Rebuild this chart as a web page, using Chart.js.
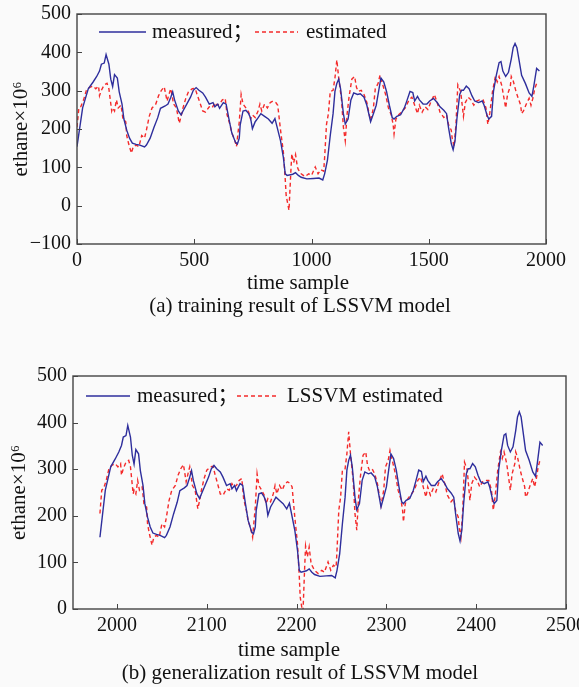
<!DOCTYPE html>
<html>
<head>
<meta charset="utf-8">
<script src="https://cdn.jsdelivr.net/npm/chart.js@4.4.1/dist/chart.umd.min.js"></script>
<style>
  html, body { margin: 0; padding: 0; background: #fafafa; }
  body { width: 579px; height: 687px; position: relative; overflow: hidden; }
  canvas { position: absolute; left: 0; }
  #train { top: 0; }
  #test { top: 360px; }
</style>
</head>
<body>
<canvas id="train" width="579" height="320"></canvas>
<canvas id="test" width="579" height="327"></canvas>
<script>
// ethane values (same series shown in both panels)
const measured = [
  154, 255, 305, 322, 337, 351, 369, 372, 394, 369,
  330, 311, 342, 333, 297, 265, 226, 197, 176, 163,
  160, 158, 153, 158, 176, 204, 229, 254, 260, 265,
  283, 297, 276, 247, 237, 247, 265, 283, 301, 308,
  301, 294, 283, 265, 269, 258, 265, 254, 269, 265,
  226, 190, 165, 161, 176, 211, 247, 249, 240, 229,
  201, 219, 229, 240, 233, 226, 215, 227, 208, 169,
  126, 83, 79, 82, 86, 79, 74, 70, 71, 72,
  67, 83, 119, 183, 240, 298, 319, 330, 305, 240,
  213, 226, 276, 294, 290, 292, 283, 262, 230, 219,
  240, 262, 305, 333, 323, 298, 262, 230, 226, 233,
  237, 255, 276, 298, 295, 273, 285, 276, 265, 265,
  273, 280, 269, 258, 249, 240, 205, 162, 146, 169,
  226, 290, 301, 301, 312, 305, 287, 273, 269, 273,
  262, 237, 226, 233, 298, 340, 373, 376, 351, 337,
  348, 383, 412, 423, 412, 369, 340, 319, 294, 285,
  312, 358, 351
];
const estimated = [
  205, 255, 258, 276, 301, 308, 312, 305, 312, 287,
  301, 315, 319, 305, 247, 255, 247, 276, 255, 262,
  226, 219, 183, 162, 137, 154, 158, 154, 183, 176,
  197, 233, 255, 265, 287, 301, 310, 273, 298, 305,
  265, 255, 215, 233, 255, 280, 298, 305, 306, 290,
  269, 247, 244, 258, 255, 269, 262, 265, 276, 280,
  237, 212, 190, 172, 154, 219, 290, 265, 255, 244,
  226, 237, 230, 247, 265, 247, 265, 255, 269, 273,
  269, 262, 197, 140, 69, 26, -12, 90, 135, 112,
  133, 100, 94, 83, 76, 83, 79, 101, 83, 94,
  90, 126, 212, 240, 298, 301, 333, 380, 333, 276,
  205, 169, 240, 283, 330, 337, 308, 298, 301, 290,
  269, 233, 222, 255, 305, 319, 340, 315, 290, 255,
  237, 212, 187, 226, 237, 247, 255, 276, 283, 262,
  240, 262, 244, 258, 251, 269, 290, 269, 244, 230,
  237, 212, 197, 176, 154, 212, 315, 298, 255, 233,
  269, 283, 276, 262, 273, 276, 276, 255, 212, 240,
  298, 337, 323, 337, 312, 283, 255, 290, 312, 337,
  326, 298, 283, 262, 240, 247, 265, 280, 262, 280,
  305, 319
];

// time sample positions, panel (a) training
const trainSampleMeasured = [
  0, 24, 48, 68, 84, 96, 104, 116, 124, 136,
  144, 152, 160, 172, 180, 192, 200, 212, 224, 236,
  252, 268, 288, 296, 312, 328, 344, 356, 376, 388,
  400, 408, 416, 432, 444, 452, 468, 484, 496, 508,
  520, 536, 548, 564, 580, 588, 600, 608, 624, 636,
  648, 660, 676, 684, 692, 696, 708, 720, 732, 740,
  748, 760, 772, 784, 800, 816, 832, 844, 852, 868,
  880, 888, 896, 920, 932, 944, 956, 980, 1008, 1032,
  1048, 1056, 1068, 1080, 1092, 1100, 1108, 1116, 1124, 1136,
  1144, 1156, 1168, 1180, 1196, 1208, 1224, 1236, 1248, 1252,
  1264, 1276, 1288, 1296, 1308, 1320, 1332, 1344, 1352, 1364,
  1380, 1396, 1408, 1420, 1432, 1440, 1452, 1460, 1476, 1492,
  1504, 1520, 1536, 1548, 1564, 1576, 1584, 1596, 1604, 1612,
  1620, 1632, 1640, 1648, 1660, 1672, 1684, 1696, 1712, 1728,
  1736, 1748, 1756, 1768, 1776, 1788, 1800, 1808, 1816, 1828,
  1840, 1852, 1860, 1868, 1876, 1888, 1896, 1912, 1928, 1940,
  1948, 1960, 1972
];
const trainSampleEstimated = [
  0, 8, 16, 28, 40, 52, 68, 80, 92, 96,
  104, 116, 128, 136, 148, 152, 160, 168, 176, 188,
  196, 208, 212, 220, 232, 240, 252, 264, 276, 288,
  296, 308, 320, 336, 348, 360, 372, 384, 396, 400,
  412, 424, 436, 444, 452, 464, 476, 492, 504, 512,
  524, 536, 548, 564, 576, 588, 596, 608, 620, 632,
  640, 652, 660, 672, 680, 692, 700, 708, 720, 732,
  740, 748, 760, 772, 780, 788, 800, 812, 824, 836,
  848, 856, 868, 880, 888, 892, 904, 912, 916, 924,
  932, 940, 944, 956, 972, 988, 1000, 1016, 1028, 1040,
  1052, 1056, 1064, 1072, 1080, 1092, 1100, 1108, 1116, 1128,
  1136, 1144, 1152, 1160, 1172, 1184, 1192, 1200, 1212, 1224,
  1236, 1248, 1252, 1264, 1272, 1284, 1292, 1304, 1316, 1328,
  1340, 1348, 1352, 1360, 1372, 1388, 1400, 1416, 1428, 1440,
  1452, 1460, 1472, 1484, 1496, 1508, 1524, 1536, 1548, 1564,
  1576, 1584, 1596, 1600, 1608, 1616, 1624, 1636, 1644, 1648,
  1656, 1668, 1680, 1692, 1704, 1716, 1732, 1744, 1752, 1760,
  1772, 1784, 1792, 1800, 1812, 1820, 1828, 1836, 1848, 1852,
  1860, 1872, 1880, 1892, 1896, 1904, 1916, 1928, 1936, 1944,
  1952, 1960
];

// time sample positions, panel (b) generalization
const testSampleMeasured = [
  1981, 1987, 1993, 1998, 2002, 2005, 2007, 2010, 2012, 2015,
  2017, 2019, 2021, 2024, 2026, 2029, 2031, 2034, 2037, 2040,
  2044, 2048, 2053, 2055, 2059, 2063, 2067, 2070, 2075, 2078,
  2081, 2083, 2085, 2089, 2092, 2094, 2098, 2102, 2105, 2108,
  2111, 2115, 2118, 2122, 2126, 2128, 2131, 2133, 2137, 2140,
  2143, 2146, 2150, 2152, 2154, 2155, 2158, 2161, 2164, 2166,
  2168, 2171, 2174, 2177, 2181, 2185, 2189, 2192, 2194, 2198,
  2201, 2203, 2205, 2211, 2214, 2217, 2220, 2226, 2233, 2239,
  2243, 2245, 2248, 2251, 2254, 2256, 2258, 2260, 2262, 2265,
  2267, 2270, 2273, 2276, 2280, 2283, 2287, 2290, 2293, 2294,
  2297, 2300, 2303, 2305, 2308, 2311, 2314, 2317, 2319, 2322,
  2326, 2330, 2333, 2336, 2339, 2341, 2344, 2346, 2350, 2354,
  2357, 2361, 2365, 2368, 2372, 2375, 2377, 2380, 2382, 2384,
  2386, 2389, 2391, 2393, 2396, 2399, 2402, 2405, 2409, 2413,
  2415, 2418, 2420, 2423, 2425, 2428, 2431, 2433, 2435, 2438,
  2441, 2444, 2446, 2448, 2450, 2453, 2455, 2459, 2463, 2466,
  2468, 2471, 2474
];
const testSampleEstimated = [
  1981, 1983, 1985, 1988, 1991, 1994, 1998, 2001, 2004, 2005,
  2007, 2010, 2013, 2015, 2018, 2019, 2021, 2023, 2025, 2028,
  2030, 2033, 2034, 2036, 2039, 2041, 2044, 2047, 2050, 2053,
  2055, 2058, 2061, 2065, 2068, 2071, 2074, 2077, 2080, 2081,
  2084, 2087, 2090, 2092, 2094, 2097, 2100, 2104, 2107, 2109,
  2112, 2115, 2118, 2122, 2125, 2128, 2130, 2133, 2136, 2139,
  2141, 2144, 2146, 2149, 2151, 2154, 2156, 2158, 2161, 2164,
  2166, 2168, 2171, 2174, 2176, 2178, 2181, 2184, 2187, 2190,
  2193, 2195, 2198, 2201, 2203, 2204, 2207, 2209, 2210, 2212,
  2214, 2216, 2217, 2220, 2224, 2228, 2231, 2235, 2238, 2241,
  2244, 2245, 2247, 2249, 2251, 2254, 2256, 2258, 2260, 2263,
  2265, 2267, 2269, 2271, 2274, 2277, 2279, 2281, 2284, 2287,
  2290, 2293, 2294, 2297, 2299, 2302, 2304, 2307, 2310, 2313,
  2316, 2318, 2319, 2321, 2324, 2328, 2331, 2335, 2338, 2341,
  2344, 2346, 2349, 2352, 2355, 2358, 2362, 2365, 2368, 2372,
  2375, 2377, 2380, 2381, 2383, 2385, 2387, 2390, 2392, 2393,
  2395, 2398, 2401, 2404, 2407, 2410, 2414, 2417, 2419, 2421,
  2424, 2427, 2429, 2431, 2434, 2436, 2438, 2440, 2443, 2444,
  2446, 2449, 2451, 2454, 2455, 2457, 2460, 2463, 2465, 2467,
  2469, 2471
];

// tick labels
const trainXTicks = [0, 500, 1000, 1500, 2000];
const trainYTicks = [-100, 0, 100, 200, 300, 400, 500];
const testXTicks = [2000, 2100, 2200, 2300, 2400, 2500];
const testYTicks = [0, 100, 200, 300, 400, 500];

const SERIF = '"Liberation Serif", "Times New Roman", "Noto Sans CJK SC", serif';
Chart.defaults.font.family = SERIF;
Chart.defaults.color = '#111';

const pts = (xs, ys) => xs.map((x, i) => ({ x: x, y: ys[i] }));
const plain = v => (v < 0 ? '\u2212' + Math.abs(v) : String(v));

// frame, inward tick marks, in-plot legend, x title and caption
const framePlugin = {
  id: 'frame',
  afterDraw(chart, args, opts) {
    const { ctx, chartArea: a, scales } = chart;
    ctx.save();
    ctx.strokeStyle = '#444';
    ctx.lineWidth = 1.4;
    ctx.strokeRect(a.left, a.top, a.right - a.left, a.bottom - a.top);
    ctx.beginPath();
    scales.x.ticks.forEach(t => {
      const px = Math.round(scales.x.getPixelForValue(t.value)) + 0.5;
      ctx.moveTo(px, a.bottom);
      ctx.lineTo(px, a.bottom - 5);
    });
    scales.y.ticks.forEach(t => {
      const py = Math.round(scales.y.getPixelForValue(t.value)) + 0.5;
      ctx.moveTo(a.left, py);
      ctx.lineTo(a.left + 5, py);
    });
    ctx.lineWidth = 1;
    ctx.stroke();

    // legend inside the plot
    ctx.font = '21px ' + SERIF;
    ctx.textBaseline = 'middle';
    ctx.textAlign = 'left';
    chart.data.datasets.forEach((ds, i) => {
      const it = opts.legend[i];
      ctx.beginPath();
      ctx.strokeStyle = ds.borderColor;
      ctx.lineWidth = ds.borderWidth;
      ctx.setLineDash(ds.borderDash || []);
      ctx.moveTo(it.x0, opts.legendY);
      ctx.lineTo(it.x1, opts.legendY);
      ctx.stroke();
      ctx.setLineDash([]);
      ctx.fillStyle = '#111';
      ctx.fillText(ds.label, it.tx, opts.legendY);
    });

    ctx.textAlign = 'center';
    ctx.fillText('time sample', opts.titleX, opts.titleY);
    ctx.fillText(opts.caption, opts.captionX, opts.captionY);
    ctx.restore();
  }
};

function makeChart(id, cfg) {
  return new Chart(document.getElementById(id), {
    type: 'line',
    data: {
      datasets: [
        {
          label: 'measured；',
          data: pts(cfg.xMeasured, measured),
          borderColor: '#2e2e9c',
          borderWidth: 1.4,
          pointRadius: 0,
          tension: 0
        },
        {
          label: cfg.estLabel,
          data: pts(cfg.xEstimated, estimated),
          borderColor: '#f42a2a',
          borderWidth: 1.4,
          borderDash: [4, 3],
          pointRadius: 0,
          tension: 0
        }
      ]
    },
    options: {
      responsive: false,
      animation: false,
      layout: { padding: cfg.padding },
      plugins: {
        legend: { display: false },
        tooltip: { enabled: false },
        frame: cfg.frame
      },
      scales: {
        x: {
          type: 'linear',
          min: cfg.xMin,
          max: cfg.xMax,
          grid: { display: false, drawTicks: false, tickLength: 0 },
          border: { display: false },
          ticks: { font: { size: 20 }, padding: 5, maxRotation: 0, autoSkip: false, callback: plain },
          afterBuildTicks: s => { s.ticks = cfg.xTicks.map(v => ({ value: v })); },
          afterFit: s => { s.height = cfg.xAxisHeight; s.paddingLeft = 0; s.paddingRight = 0; }
        },
        y: {
          min: cfg.yMin,
          max: cfg.yMax,
          grid: { display: false, drawTicks: false, tickLength: 0 },
          border: { display: false },
          ticks: { font: { size: 20 }, padding: 6, callback: plain },
          title: {
            display: true,
            text: 'ethane×10⁶',
            font: { size: 21 },
            padding: { top: cfg.yTitlePad, bottom: 0 }
          },
          afterBuildTicks: s => { s.ticks = cfg.yTicks.map(v => ({ value: v })); },
          afterFit: s => { s.width = cfg.yAxisWidth; s.paddingTop = 0; s.paddingBottom = 0; }
        }
      }
    },
    plugins: [framePlugin]
  });
}

makeChart('train', {
  xMeasured: trainSampleMeasured,
  xEstimated: trainSampleEstimated,
  estLabel: 'estimated',
  xMin: 0, xMax: 2000, yMin: -100, yMax: 500,
  xTicks: trainXTicks, yTicks: trainYTicks,
  padding: { left: 0, top: 14, right: 33, bottom: 0 },
  xAxisHeight: 76, yAxisWidth: 77, yTitlePad: 9,
  frame: {
    legendY: 32,
    legend: [{ x0: 99, x1: 146, tx: 152 }, { x0: 255, x1: 298, tx: 306 }],
    titleX: 298, titleY: 283,
    caption: '(a) training result of LSSVM model',
    captionX: 300, captionY: 306
  }
});

makeChart('test', {
  xMeasured: testSampleMeasured,
  xEstimated: testSampleEstimated,
  estLabel: 'LSSVM estimated',
  xMin: 1951, xMax: 2500, yMin: 0, yMax: 500,
  xTicks: testXTicks, yTicks: testYTicks,
  padding: { left: 0, top: 16, right: 13, bottom: 0 },
  xAxisHeight: 78, yAxisWidth: 73, yTitlePad: 7,
  frame: {
    legendY: 36,
    legend: [{ x0: 86, x1: 130, tx: 137 }, { x0: 237, x1: 279, tx: 287 }],
    titleX: 289, titleY: 290,
    caption: '(b) generalization result of LSSVM model',
    captionX: 300, captionY: 313
  }
});
</script>
</body>
</html>
